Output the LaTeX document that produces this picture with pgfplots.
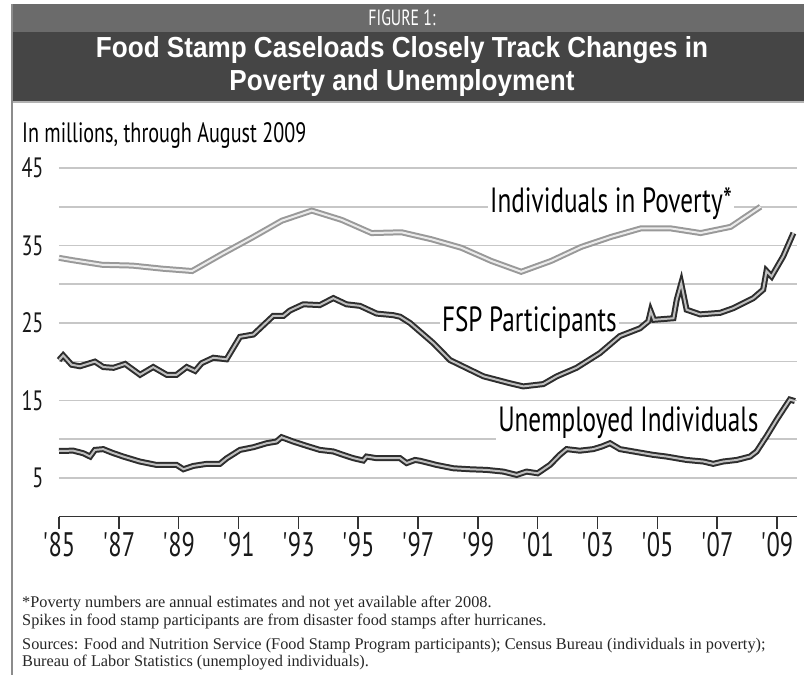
\documentclass[border=0pt]{standalone}
\usepackage{pgfplots}
\pgfplotsset{compat=1.18}
\usepackage{pgfplotstable}
\usepackage{fontspec}
\setmainfont{PT Sans}
\newfontfamily\cond{PT Sans}[FakeStretch=0.72]
\newfontfamily\titlefont{Liberation Sans}[FakeStretch=0.9]
\newfontfamily\notefont{Liberation Serif}
\newcommand{\ap}{\textquotesingle\kern-1.5bp}

\pgfplotstableread{
x y
1985.00 33.4
1985.45 33.1
1986.45 32.5
1987.45 32.4
1988.45 32.0
1989.45 31.7
1990.45 33.9
1991.45 36.0
1992.45 38.2
1993.45 39.5
1994.45 38.3
1995.45 36.6
1996.45 36.7
1997.45 35.8
1998.45 34.7
1999.45 33.0
2000.45 31.6
2001.45 33.0
2002.45 34.8
2003.45 36.1
2004.45 37.2
2005.45 37.2
2006.45 36.6
2007.45 37.4
2008.45 40.0
}\poverty

\pgfplotstableread{
x y
1985.00 20.2
1985.14 20.8
1985.42 19.6
1985.70 19.4
1986.20 20.0
1986.48 19.3
1986.82 19.2
1987.21 19.7
1987.71 18.3
1988.15 19.3
1988.60 18.3
1988.93 18.3
1989.27 19.3
1989.55 18.8
1989.77 19.8
1990.16 20.5
1990.60 20.3
1991.05 23.2
1991.50 23.5
1992.16 25.9
1992.50 25.9
1992.72 26.6
1993.17 27.4
1993.72 27.3
1994.17 28.2
1994.61 27.4
1995.06 27.2
1995.62 26.2
1996.17 26.0
1996.40 25.8
1996.73 25.0
1997.51 22.4
1998.07 20.2
1999.19 18.1
2000.08 17.2
2000.52 16.8
2001.19 17.1
2001.64 18.1
2002.30 19.2
2003.08 21.1
2003.75 23.3
2004.42 24.3
2004.70 25.2
2004.78 26.5
2004.89 25.4
2005.54 25.6
2005.65 28.0
2005.80 30.1
2005.98 26.7
2006.43 26.1
2007.10 26.3
2007.54 26.9
2008.21 28.2
2008.54 29.3
2008.65 31.7
2008.82 31.0
2009.21 33.6
2009.55 36.6
}\fsp

\pgfplotstableread{
x y
1985.00 8.47
1985.48 8.5
1985.81 8.17
1986.04 7.74
1986.20 8.6
1986.48 8.7
1986.76 8.26
1987.15 7.74
1987.70 7.1
1988.26 6.66
1988.60 6.66
1988.93 6.66
1989.16 6.1
1989.49 6.53
1989.94 6.8
1990.38 6.8
1990.60 7.5
1991.05 8.6
1991.50 8.95
1991.94 9.46
1992.27 9.68
1992.44 10.24
1992.83 9.68
1993.28 9.12
1993.72 8.6
1994.17 8.4
1994.50 7.96
1994.84 7.53
1995.17 7.23
1995.28 7.74
1995.62 7.53
1996.06 7.53
1996.40 7.53
1996.62 6.9
1996.90 7.3
1997.07 7.2
1997.62 6.66
1998.18 6.23
1998.74 6.1
1999.29 6.02
1999.85 5.8
2000.30 5.37
2000.63 5.8
2001.00 5.58
2001.41 6.66
2001.74 7.96
2001.97 8.7
2002.41 8.5
2002.86 8.7
2003.14 9.03
2003.42 9.46
2003.75 8.7
2004.20 8.4
2004.86 7.96
2005.31 7.74
2005.98 7.3
2006.54 7.1
2006.87 6.8
2007.20 7.1
2007.65 7.3
2008.10 7.74
2008.32 8.4
2008.65 10.35
2008.99 12.5
2009.32 14.46
2009.43 15.1
2009.60 14.9
}\unemp

\begin{document}
\begin{tikzpicture}
\useasboundingbox (0,0) rectangle (804bp,-675bp);
% banner
\fill[black!58] (12bp,-4bp) rectangle (804bp,-32bp);
\fill[black!73] (12bp,-32bp) rectangle (804bp,-101bp);
\draw[black!30, line width=1.5bp] (12bp,-102bp) -- (804bp,-102bp);
\draw[black!45, line width=2bp] (12bp,-4bp) -- (12bp,-675bp);
\node[text=white, font=\cond\fontsize{22bp}{22bp}\selectfont] at (402bp,-18bp) {FIGURE 1:};
\node[text=white, font=\titlefont\bfseries\fontsize{29bp}{29bp}\selectfont] at (402bp,-50bp) {Food Stamp Caseloads Closely Track Changes in};
\node[text=white, font=\titlefont\bfseries\fontsize{29bp}{29bp}\selectfont] at (402bp,-83bp) {Poverty and Unemployment};
\node[anchor=base west, inner sep=0pt, font=\cond\fontsize{28bp}{28bp}\selectfont] at (22bp,-142bp) {In millions, through August 2009};

\begin{axis}[
 at={(59bp,-516.5bp)}, anchor=south west,
 scale only axis, width=738bp, height=348.5bp,
 xmin=1985, xmax=2009.67, ymin=0, ymax=45,
 axis x line*=bottom, axis y line*=left,
 y axis line style={draw=none},
 x axis line style={line width=1.8bp, color=black!80},
 xtick={1985,1987,...,2009},
 xticklabels={\ap85,\ap87,\ap89,\ap91,\ap93,\ap95,\ap97,\ap99,\ap01,\ap03,\ap05,\ap07,\ap09},
 ytick={5,15,25,35,45},
 minor ytick={10,20,30,40},
 ymajorgrids, yminorgrids,
 major grid style={line width=1.6bp, color=black!22},
 minor grid style={line width=1.6bp, color=black!22},
 ytick style={draw=none},
 minor tick style={draw=none},
 xtick style={line width=1.6bp, color=black!80},
 tick align=outside, major tick length=12bp,
 xticklabel style={font=\cond\fontsize{34bp}{34bp}\selectfont, text=black!90},
 yticklabel style={font=\cond\fontsize{28bp}{28bp}\selectfont, text=black!90},
 /pgf/number format/assume math mode=true,
 clip=false,
]
\node[anchor=base west, fill=white, inner sep=2bp, font=\cond\fontsize{35bp}{35bp}\selectfont] at (axis cs:1999.34,39.19) {Individuals in Poverty*};
\node[anchor=base west, fill=white, inner sep=2bp, font=\cond\fontsize{35bp}{35bp}\selectfont] at (axis cs:1997.73,23.89) {FSP Participants};
\node[anchor=base west, fill=white, inner sep=2bp, font=\cond\fontsize{35bp}{35bp}\selectfont] at (axis cs:1999.61,10.98) {Unemployed Individuals};
\addplot[no marks, line width=6bp, color=black!40] table {\poverty};
\addplot[no marks, line width=2bp, color=black!8] table {\poverty};
\addplot[no marks, line width=6bp, color=black!82] table {\fsp};
\addplot[no marks, line width=2bp, color=black!25] table {\fsp};
\addplot[no marks, line width=6bp, color=black!82] table {\unemp};
\addplot[no marks, line width=2bp, color=black!25] table {\unemp};
\end{axis}

\begin{scope}[every node/.style={anchor=base west, inner sep=0pt, font=\notefont\fontsize{16.3bp}{16.3bp}\selectfont, text=black!85}]
\node at (22bp,-607bp) {*Poverty numbers are annual estimates and not yet available after 2008.};
\node at (22bp,-625bp) {Spikes in food stamp participants are from disaster food stamps after hurricanes.};
\node at (22bp,-649bp) {Sources: Food and Nutrition Service (Food Stamp Program participants); Census Bureau (individuals in poverty);};
\node at (22bp,-666bp) {Bureau of Labor Statistics (unemployed individuals).};
\end{scope}
\end{tikzpicture}
\end{document}
